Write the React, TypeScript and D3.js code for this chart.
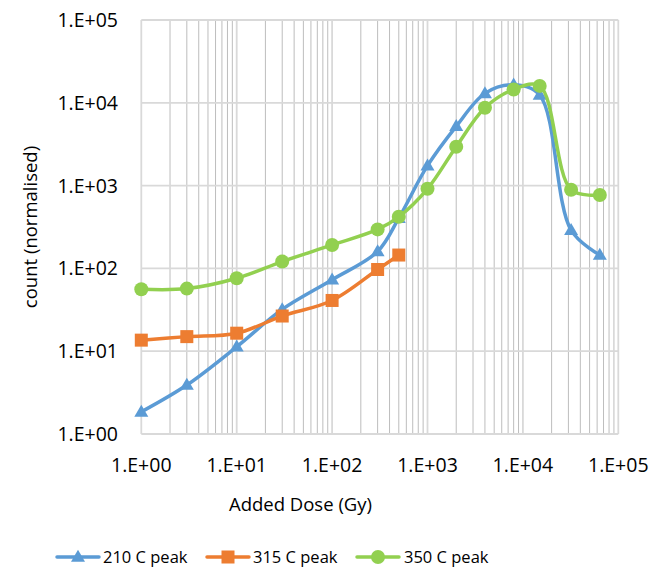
import React from "react";
import * as d3 from "d3";

// Added dose (Gy) for each measurement
const doses = [1, 3, 10, 30, 100, 300, 500, 1000, 2000, 4000, 8000, 15000, 32000, 64000];
// Normalised counts per glow peak
const peak210 = [1.85, 3.9, 11.3, 32, 73, 160, 405, 1740, 5200, 13000, 16500, 12400, 290, 145];
const peak315 = [13.6, 15, 16.5, 26.6, 41, 97, 145];
const peak350 = [56, 57, 76, 121, 192, 296, 420, 915, 2950, 8700, 14500, 16000, 890, 770];

const decades = [1, 10, 100, 1000, 10000, 100000];
const tickLabels = ["1.E+00", "1.E+01", "1.E+02", "1.E+03", "1.E+04", "1.E+05"];

const seriesNames = ["210 C peak", "315 C peak", "350 C peak"];
const seriesColors = ["#5B9BD5", "#ED7D31", "#92D050"];

const W = 659;
const H = 574;
const FONT = "'Open Sans', 'Noto Sans', sans-serif";

const x = d3.scaleLog().domain([1, 1e5]).range([141.3, 618.3]);
const y = d3.scaleLog().domain([1, 1e5]).range([434, 20]);

type Pt = [number, number];

function Marker({ kind, cx, cy, color }: { kind: number; cx: number; cy: number; color: string }) {
  if (kind === 0) {
    const w = 14, h = 12;
    return (
      <path
        d={`M${cx},${cy - h * 0.6}L${cx + w / 2},${cy + h * 0.4}L${cx - w / 2},${cy + h * 0.4}Z`}
        fill={color}
      />
    );
  }
  if (kind === 1) {
    const s = 13;
    return <rect x={cx - s / 2} y={cy - s / 2} width={s} height={s} fill={color} />;
  }
  return <circle cx={cx} cy={cy} r={7} fill={color} />;
}

export default function App() {
  const minorTicks: number[] = [];
  for (let d = 0; d < 5; d++) {
    for (let m = 2; m <= 9; m++) minorTicks.push(m * Math.pow(10, d));
  }

  const series: number[][] = [peak210, peak315, peak350];
  const line = d3
    .line<Pt>()
    .x((p) => x(p[0]))
    .y((p) => y(p[1]))
    .curve(d3.curveCatmullRom.alpha(0.5));

  const [x0, x1] = x.range();
  const [yb, yt] = y.range();

  const legendItems = [
    { lx: 57, tx: 103 },
    { lx: 207, tx: 253 },
    { lx: 357, tx: 404 },
  ];

  return (
    <svg width={W} height={H} style={{ display: "block", position: "absolute", left: 0, top: 0 }}>
      <rect width={W} height={H} fill="#ffffff" />

      {/* minor vertical gridlines */}
      {minorTicks.map((t) => (
        <line key={"mv" + t} x1={x(t)} x2={x(t)} y1={yt} y2={yb} stroke="#bdbdbd" strokeWidth={1} />
      ))}
      {/* major gridlines */}
      {decades.map((t) => (
        <line key={"Mv" + t} x1={x(t)} x2={x(t)} y1={yt} y2={yb} stroke="#d9d9d9" strokeWidth={1.8} />
      ))}
      {decades.map((t) => (
        <line key={"Mh" + t} x1={x0} x2={x1} y1={y(t)} y2={y(t)} stroke="#d9d9d9" strokeWidth={1.8} />
      ))}

      {/* series */}
      {series.map((vals, si) => {
        const pts: Pt[] = vals.map((v, i) => [doses[i], v]);
        return (
          <g key={"s" + si}>
            <path d={line(pts) || ""} fill="none" stroke={seriesColors[si]} strokeWidth={3.5} strokeLinejoin="round" strokeLinecap="round" />
            {pts.map((p, i) => (
              <Marker key={i} kind={si} cx={x(p[0])} cy={y(p[1])} color={seriesColors[si]} />
            ))}
          </g>
        );
      })}

      {/* y tick labels */}
      {decades.map((t, i) => (
        <text key={"yl" + t} x={118} y={y(t)} dy="0.36em" textAnchor="end" fontFamily={FONT} fontSize={19.5} fill="#000">
          {tickLabels[i]}
        </text>
      ))}
      {/* x tick labels */}
      {decades.map((t, i) => (
        <text key={"xl" + t} x={x(t)} y={472} textAnchor="middle" fontFamily={FONT} fontSize={19.5} fill="#000">
          {tickLabels[i]}
        </text>
      ))}

      {/* axis titles */}
      <text x={300.5} y={511} textAnchor="middle" fontFamily={FONT} fontSize={18.5} fill="#000">
        Added Dose (Gy)
      </text>
      <text
        transform={`translate(37,${(yt + yb) / 2}) rotate(-90)`}
        textAnchor="middle"
        fontFamily={FONT}
        fontSize={18.5}
        fill="#000"
      >
        count (normalised)
      </text>

      {/* legend */}
      {legendItems.map((it, i) => (
        <g key={"lg" + i}>
          <line x1={it.lx} x2={it.lx + 42} y1={557} y2={557} stroke={seriesColors[i]} strokeWidth={3.5} strokeLinecap="round" />
          <Marker kind={i} cx={it.lx + 21} cy={557} color={seriesColors[i]} />
          <text x={it.tx} y={557} dy="0.36em" fontFamily={FONT} fontSize={16.5} fill="#000">
            {seriesNames[i]}
          </text>
        </g>
      ))}
    </svg>
  );
}
